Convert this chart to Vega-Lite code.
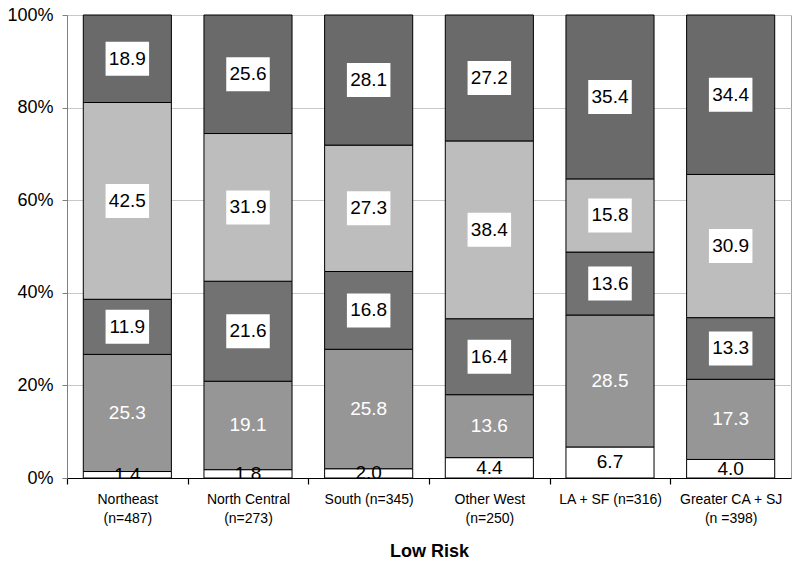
{
  "$schema": "https://vega.github.io/schema/vega-lite/v6.json",
  "width": 724,
  "height": 463,
  "autosize": {"type": "none"},
  "padding": {"left": 67, "top": 15, "right": 9, "bottom": 86},
  "background": "white",
  "config": {
    "font": "Liberation Sans",
    "view": {"stroke": "#a0a0a0", "strokeWidth": 1},
    "axisX": {"ticks": true, "tickSize": 6, "tickColor": "black", "tickWidth": 1.2, "tickOpacity": 1}
  },
  "data": {
    "values": [
      {"region": "Northeast|(n=487)", "segment": "s1", "order": 1, "value": 1.4},
      {"region": "Northeast|(n=487)", "segment": "s2", "order": 2, "value": 25.3},
      {"region": "Northeast|(n=487)", "segment": "s3", "order": 3, "value": 11.9},
      {"region": "Northeast|(n=487)", "segment": "s4", "order": 4, "value": 42.5},
      {"region": "Northeast|(n=487)", "segment": "s5", "order": 5, "value": 18.9},
      {"region": "North Central|(n=273)", "segment": "s1", "order": 1, "value": 1.8},
      {"region": "North Central|(n=273)", "segment": "s2", "order": 2, "value": 19.1},
      {"region": "North Central|(n=273)", "segment": "s3", "order": 3, "value": 21.6},
      {"region": "North Central|(n=273)", "segment": "s4", "order": 4, "value": 31.9},
      {"region": "North Central|(n=273)", "segment": "s5", "order": 5, "value": 25.6},
      {"region": "South (n=345)", "segment": "s1", "order": 1, "value": 2.0},
      {"region": "South (n=345)", "segment": "s2", "order": 2, "value": 25.8},
      {"region": "South (n=345)", "segment": "s3", "order": 3, "value": 16.8},
      {"region": "South (n=345)", "segment": "s4", "order": 4, "value": 27.3},
      {"region": "South (n=345)", "segment": "s5", "order": 5, "value": 28.1},
      {"region": "Other West|(n=250)", "segment": "s1", "order": 1, "value": 4.4},
      {"region": "Other West|(n=250)", "segment": "s2", "order": 2, "value": 13.6},
      {"region": "Other West|(n=250)", "segment": "s3", "order": 3, "value": 16.4},
      {"region": "Other West|(n=250)", "segment": "s4", "order": 4, "value": 38.4},
      {"region": "Other West|(n=250)", "segment": "s5", "order": 5, "value": 27.2},
      {"region": "LA + SF (n=316)", "segment": "s1", "order": 1, "value": 6.7},
      {"region": "LA + SF (n=316)", "segment": "s2", "order": 2, "value": 28.5},
      {"region": "LA + SF (n=316)", "segment": "s3", "order": 3, "value": 13.6},
      {"region": "LA + SF (n=316)", "segment": "s4", "order": 4, "value": 15.8},
      {"region": "LA + SF (n=316)", "segment": "s5", "order": 5, "value": 35.4},
      {"region": "Greater CA + SJ|(n =398)", "segment": "s1", "order": 1, "value": 4.0},
      {"region": "Greater CA + SJ|(n =398)", "segment": "s2", "order": 2, "value": 17.3},
      {"region": "Greater CA + SJ|(n =398)", "segment": "s3", "order": 3, "value": 13.3},
      {"region": "Greater CA + SJ|(n =398)", "segment": "s4", "order": 4, "value": 30.9},
      {"region": "Greater CA + SJ|(n =398)", "segment": "s5", "order": 5, "value": 34.4}
    ]
  },
  "transform": [
    {"stack": "value", "groupby": ["region"], "sort": [{"field": "order", "order": "ascending"}], "as": ["y0", "y1"], "offset": "normalize"},
    {"calculate": "(datum.y0 + datum.y1) / 2", "as": "ymid"}
  ],
  "encoding": {
    "x": {
      "field": "region",
      "type": "nominal",
      "sort": null,
      "scale": {"paddingInner": 0.27, "paddingOuter": 0.135},
      "axis": {
        "title": "Low Risk",
        "titleFont": "Liberation Sans",
        "titleFontSize": 18,
        "titleFontWeight": "bold",
        "titleColor": "black",
        "titlePadding": 17,
        "labelExpr": "split(datum.value, '|')",
        "labelAngle": 0,
        "labelFontSize": 14,
        "labelColor": "black",
        "labelLineHeight": 19,
        "labelPadding": 8,
        "labelBaseline": "top",
        "ticks": true,
        "tickOffset": -60.33,
        "labelOffset": 60.33,
        "domainColor": "black",
        "grid": false
      }
    }
  },
  "layer": [
    {
      "mark": {"type": "bar", "stroke": "black", "strokeWidth": 1},
      "encoding": {
        "y": {
          "field": "y0",
          "type": "quantitative",
          "scale": {"domain": [0, 1], "nice": false},
          "axis": {
            "title": null,
            "format": ".0%",
            "values": [0, 0.2, 0.4, 0.6, 0.8, 1],
            "labelOverlap": false,
            "labelFontSize": 18,
            "labelColor": "black",
            "labelPadding": 9,
            "domainColor": "#808080",
            "tickColor": "#808080",
            "tickSize": 5,
            "grid": true,
            "gridColor": "#c8c8c8",
            "gridWidth": 1
          }
        },
        "y2": {"field": "y1"},
        "fill": {
          "field": "segment",
          "type": "nominal",
          "legend": null,
          "scale": {"domain": ["s1", "s2", "s3", "s4", "s5"], "range": ["#ffffff", "#969696", "#727272", "#bdbdbd", "#6a6a6a"]}
        }
      }
    },
    {
      "transform": [{"filter": "datum.order >= 3"}],
      "mark": {"type": "point", "shape": "M-1.28,-1H1.28V1H-1.28Z", "filled": true, "fill": "white", "stroke": null, "opacity": 1, "size": 1156},
      "encoding": {
        "y": {"field": "ymid", "type": "quantitative"}
      }
    },
    {
      "mark": {"type": "text", "fontSize": 19, "baseline": "middle", "align": "center", "clip": true},
      "encoding": {
        "y": {"field": "ymid", "type": "quantitative"},
        "text": {"field": "value", "type": "quantitative", "format": ".1f"},
        "color": {
          "condition": {"test": "datum.order == 2", "value": "white"},
          "value": "black"
        }
      }
    }
  ]
}
